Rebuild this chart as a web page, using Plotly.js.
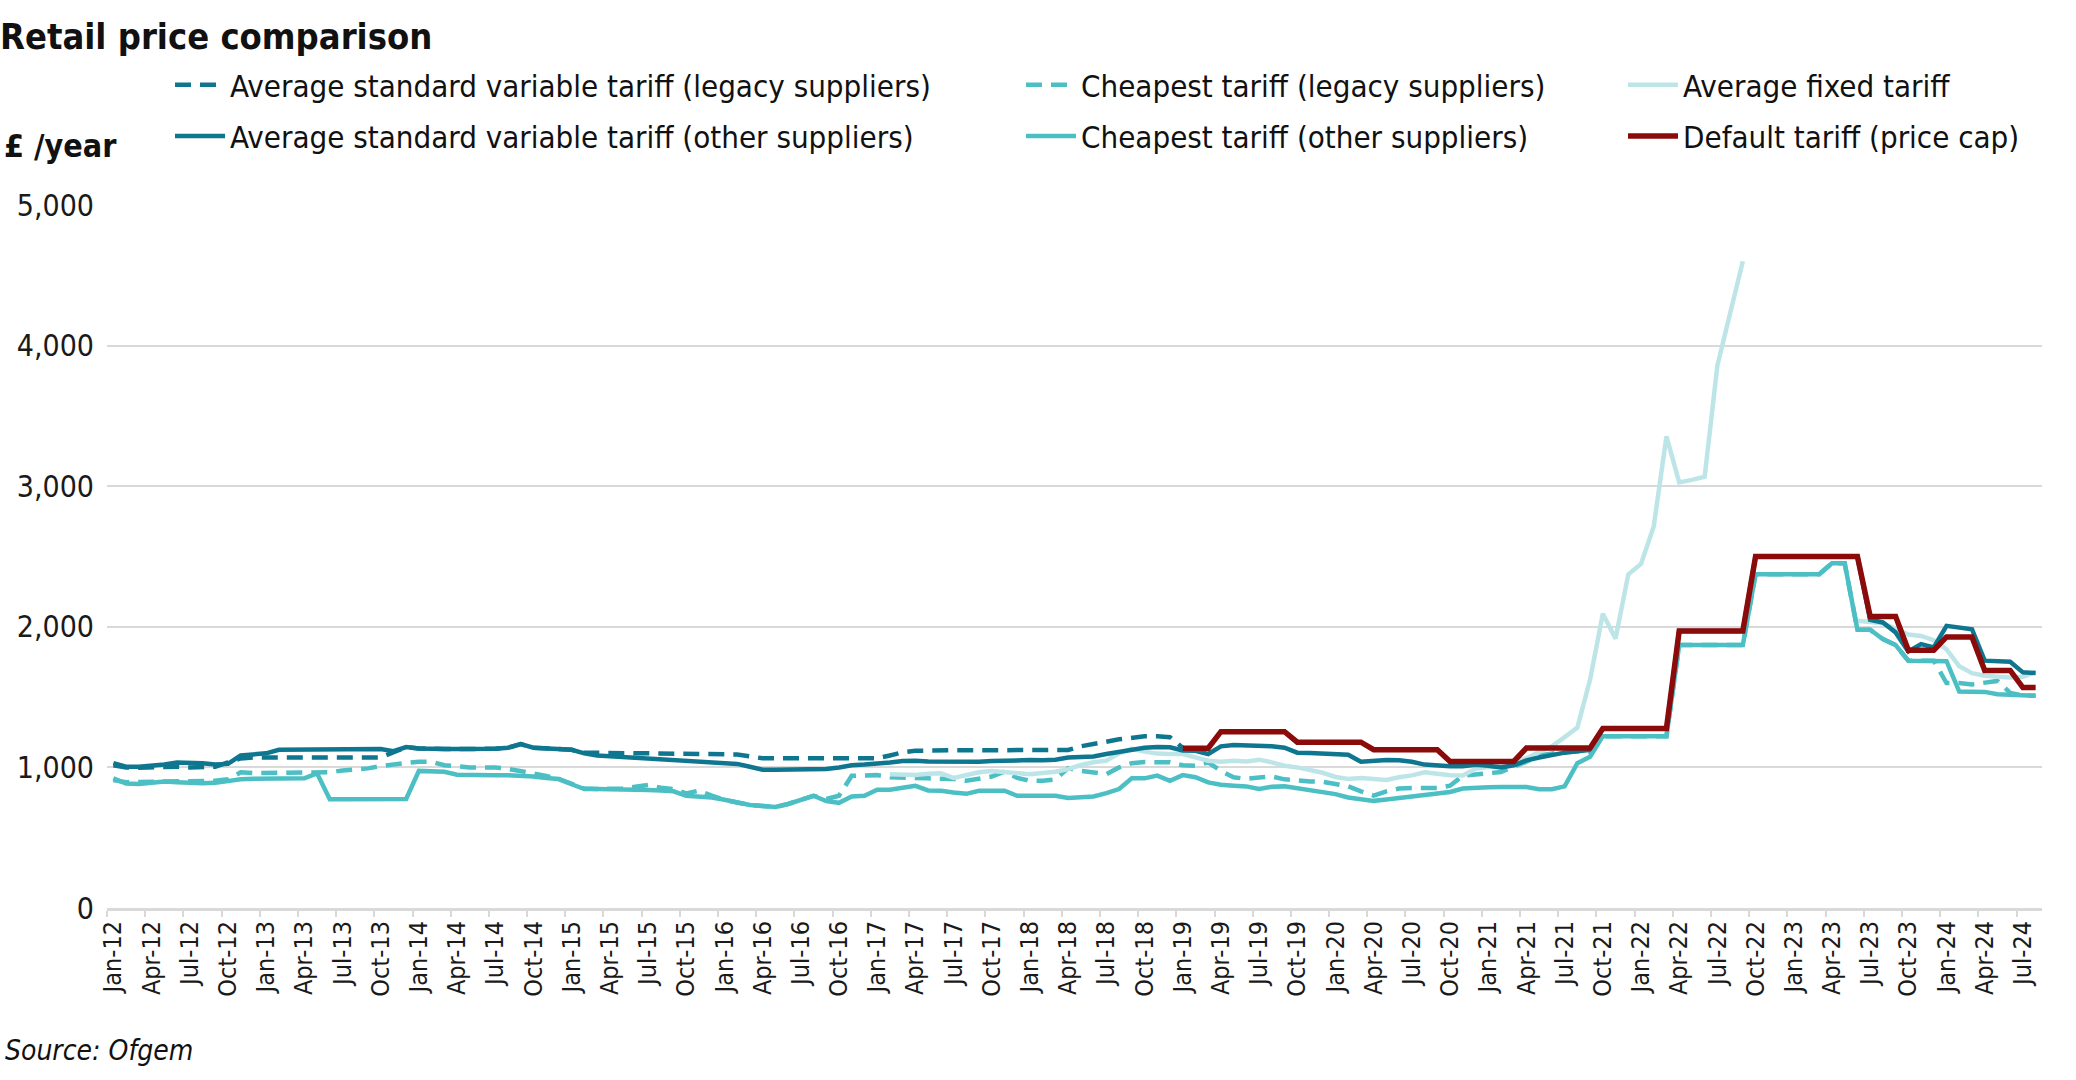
<!DOCTYPE html>
<html>
<head>
<meta charset="utf-8">
<script src="https://cdn.plot.ly/plotly-3.0.1.min.js"></script>
<style>
  html, body { margin: 0; padding: 0; background: #ffffff; }
  #chart { width: 2076px; height: 1080px; }
</style>
</head>
<body>
<div id="chart"></div>
<script>
// Monthly categories, Jan-12 .. Aug-24
const monthNames = ['Jan','Feb','Mar','Apr','May','Jun','Jul','Aug','Sep','Oct','Nov','Dec'];
const yearLabels = ['12','13','14','15','16','17','18','19','20','21','22','23','24'];
const months = [];
yearLabels.forEach(function (yy) {
  monthNames.forEach(function (mm) { months.push(mm + '-' + yy); });
});
months.length = 152; // data runs to Aug-24

// Average standard variable tariff (legacy suppliers), £/year, Jan-12 .. Jan-19
const avgSvtLegacy = [
  1015, 1000, 998, 1000, 1005, 1005, 1000, 1000, 1005, 1035, 1064, 1070,
  1071, 1071, 1071, 1071, 1071, 1071, 1071, 1071, 1071, 1071, 1110, 1145,
  1135, 1130, 1130, 1130, 1130, 1130, 1133, 1140, 1165, 1140, 1135, 1130,
  1125, 1105, 1102, 1100, 1100, 1100, 1100, 1100, 1100, 1100, 1100, 1100,
  1098, 1092, 1078, 1065, 1065, 1065, 1065, 1065, 1065, 1065, 1065, 1065,
  1065, 1085, 1107, 1118, 1122, 1122, 1122, 1122, 1122, 1122, 1122, 1122,
  1122, 1122, 1122, 1124, 1150, 1170, 1183, 1200, 1212, 1221, 1222, 1215,
  1140
];

// Cheapest tariff (legacy suppliers), Jan-12 .. Aug-24
const cheapestLegacy = [
  910, 895, 897, 898, 900, 902, 900, 905, 905, 915, 965, 960,
  960, 960, 960, 960, 960, 965, 978, 985, 993, 1010, 1017, 1031,
  1040, 1040, 1015, 1005, 1000, 1000, 1000, 990, 975, 955, 940, 917,
  880, 850, 846, 846, 850, 862, 875, 855, 845, 815, 835, 800,
  770, 750, 733, 725, 718, 740, 765, 798, 775, 798, 940, 945,
  945, 930, 925, 922, 922, 920, 917, 905, 917, 935, 970, 925,
  905, 905, 915, 995, 975, 960, 952, 1000, 1030, 1038, 1040, 1036,
  1015, 1012, 1036, 975, 930, 918, 928, 935, 915, 905, 900, 898,
  883, 865, 830, 800, 830, 850, 853, 853, 853, 870, 940, 950,
  955, 967, 1005, 1040, 1085, 1100, 1110, 1113, 1110, 1222, 1222, 1222,
  1222, 1222, 1222, 1870, 1870, 1870, 1870, 1870, 1870, 2374, 2374, 2374,
  2374, 2374, 2374, 2452, 2452, 1979, 1979, 1913, 1870, 1759, 1759, 1759,
  1600, 1600, 1590, 1600, 1615, 1530, 1512, 1510
];

// Average fixed tariff, Feb-17 .. Aug-24 (no figures Oct-22 .. May-23)
const avgFixed = [
  952, 950, 946, 955, 958, 925, 945, 965, 975, 968, 958,
  952, 960, 969, 988, 1017, 1036, 1048, 1100, 1133, 1112, 1098, 1095,
  1095, 1071, 1048, 1040, 1048, 1042, 1055, 1036, 1012, 1000, 983, 962,
  932, 918, 925, 915, 910, 930, 943, 965, 955, 945, 943, 990,
  1002, 1010, 1035, 1065, 1109, 1150, 1215, 1283, 1624, 2093, 1916, 2373,
  2447, 2714, 3354, 3027, 3045, 3068, 3858, 4230, 4600, null, null, null,
  null, null, null, null, null, 2043, 2035, 2026, 1985, 1945, 1935, 1905,
  1840, 1720, 1670, 1652, 1645, 1640, 1645, 1678
];

// Average standard variable tariff (other suppliers), Jan-12 .. Aug-24
const avgSvtOther = [
  1030, 1005, 1005, 1010, 1020, 1035, 1035, 1030, 1020, 1025, 1085, 1095,
  1100, 1125, 1125, 1125, 1125, 1125, 1125, 1125, 1125, 1130, 1115, 1145,
  1135, 1130, 1130, 1130, 1130, 1130, 1133, 1140, 1165, 1140, 1135, 1130,
  1125, 1100, 1085, 1080, 1075, 1070, 1065, 1062, 1058, 1052, 1045, 1040,
  1035, 1025, 1005, 983, 983, 985, 986, 987, 988, 1000, 1015, 1020,
  1025, 1035, 1045, 1048, 1042, 1040, 1040, 1040, 1040, 1045, 1050, 1052,
  1052, 1050, 1055, 1070, 1072, 1078, 1095, 1110, 1128, 1140, 1145, 1143,
  1120, 1118, 1095, 1150, 1160, 1158, 1155, 1150, 1140, 1105, 1102, 1100,
  1098, 1090, 1040, 1050, 1052, 1050, 1040, 1020, 1010, 1008, 1008, 1018,
  1012, 1000, 1015, 1050, 1070, 1090, 1105, 1115, 1125, 1277, 1277, 1277,
  1277, 1277, 1277, 1971, 1971, 1971, 1971, 1971, 1971, 2500, 2500, 2500,
  2500, 2500, 2500, 2500, 2500, 2500, 2050, 2031, 1960, 1825, 1877, 1853,
  2007, 1995, 1983, 1759, 1755, 1752, 1676, 1671
];

// Cheapest tariff (other suppliers), Jan-12 .. Aug-24
const cheapestOther = [
  922, 885, 882, 888, 900, 895, 888, 888, 890, 905, 915, 920,
  922, 922, 922, 922, 958, 774, 774, 774, 774, 774, 774, 775,
  975, 972, 969, 948, 945, 945, 945, 945, 942, 935, 925, 917,
  880, 846, 846, 846, 845, 842, 840, 836, 830, 798, 793, 786,
  770, 750, 733, 725, 718, 740, 765, 798, 760, 748, 793, 798,
  841, 841, 855, 869, 836, 834, 822, 812, 834, 834, 834, 798,
  798, 798, 798, 783, 788, 793, 817, 846, 922, 922, 942, 905,
  945, 930, 893, 876, 870, 865, 846, 862, 865, 850, 840, 825,
  810, 786, 770, 762, 772, 782, 790, 797, 812, 825, 850, 858,
  858, 860, 860, 860, 845, 845, 865, 1030, 1075, 1222, 1222, 1222,
  1222, 1222, 1222, 1870, 1870, 1870, 1870, 1870, 1870, 2374, 2374, 2374,
  2374, 2374, 2374, 2452, 2452, 1979, 1979, 1913, 1870, 1759, 1759, 1759,
  1755, 1539, 1539, 1537, 1520, 1515, 1512, 1510
];

// Default tariff (price cap), Jan-19 .. Aug-24
const defaultCap = [
  1137, 1137, 1137, 1254, 1254, 1254, 1254, 1254, 1254, 1179, 1179, 1179,
  1179, 1179, 1179, 1126, 1126, 1126, 1126, 1126, 1126, 1042, 1042, 1042,
  1042, 1042, 1042, 1138, 1138, 1138, 1138, 1138, 1138, 1277, 1277, 1277,
  1277, 1277, 1277, 1971, 1971, 1971, 1971, 1971, 1971, 2500, 2500, 2500,
  2500, 2500, 2500, 2500, 2500, 2500, 2074, 2074, 2074, 1834, 1834, 1834,
  1928, 1928, 1928, 1690, 1690, 1690, 1568, 1568
];

const seriesNames = [
  'Average standard variable tariff (legacy suppliers)',
  'Cheapest tariff (legacy suppliers)',
  'Average fixed tariff',
  'Average standard variable tariff (other suppliers)',
  'Cheapest tariff (other suppliers)',
  'Default tariff (price cap)'
];

const DARK = '#0f7690';
const TEAL = '#4cbfc4';
const LIGHT = '#bde5e8';
const RED = '#8b0a0a';
const NARROW = "'Liberation Sans Narrow', 'DejaVu Sans Condensed', 'Arial Narrow', sans-serif";

function line(name, x, y, color, width, dash, legendId, group) {
  return {
    type: 'scatter', mode: 'lines', name: name, x: x, y: y,
    line: { color: color, width: width, dash: dash || 'solid' },
    connectgaps: false, legend: legendId, legendgroup: group,
    hoverinfo: 'x+y+name'
  };
}

const dashPattern = '16px,9px';
const traces = [
  line(seriesNames[0], months.slice(0, avgSvtLegacy.length), avgSvtLegacy, DARK, 4.5, dashPattern, 'legend', 'a'),
  line(seriesNames[1], months.slice(0, cheapestLegacy.length), cheapestLegacy, TEAL, 4.5, dashPattern, 'legend2', 'c'),
  line(seriesNames[2], months.slice(61, 61 + avgFixed.length), avgFixed, LIGHT, 4.5, null, 'legend3', 'e'),
  line(seriesNames[3], months.slice(0, avgSvtOther.length), avgSvtOther, DARK, 4.5, null, 'legend', 'b'),
  line(seriesNames[4], months.slice(0, cheapestOther.length), cheapestOther, TEAL, 4.5, null, 'legend2', 'd'),
  line(seriesNames[5], months.slice(84, 84 + defaultCap.length), defaultCap, RED, 5.5, null, 'legend3', 'f')
];

function legendAt(xpx) {
  return {
    xref: 'container', yref: 'container',
    x: xpx / 2076, y: 1 - 58 / 1080,
    xanchor: 'left', yanchor: 'top',
    orientation: 'v', traceorder: 'grouped', tracegroupgap: 8,
    itemwidth: 50, bgcolor: 'rgba(0,0,0,0)', borderwidth: 0,
    font: { family: NARROW, size: 31, color: '#111111' }
  };
}

const layout = {
  width: 2076, height: 1080,
  paper_bgcolor: '#ffffff', plot_bgcolor: '#ffffff',
  margin: { l: 107, r: 34, t: 205, b: 172, pad: 0, autoexpand: false },
  showlegend: true,
  title: {
    text: '<b>Retail price comparison</b>',
    x: 0, xref: 'container', xanchor: 'left',
    y: 1 - 36 / 1080, yref: 'container', yanchor: 'middle',
    font: { family: NARROW, size: 36, color: '#111111' }
  },
  legend: legendAt(170),
  legend2: legendAt(1021),
  legend3: legendAt(1623),
  xaxis: {
    type: 'category',
    categoryorder: 'array', categoryarray: months,
    range: [-0.5, 151.5],
    tickmode: 'linear', tick0: 0, dtick: 3,
    tickson: 'boundaries',
    ticks: 'outside', ticklen: 6, tickwidth: 2, tickcolor: '#d9d9d9',
    tickangle: -90,
    tickfont: { family: NARROW, size: 25, color: '#1a1a1a' },
    showgrid: false, zeroline: false,
    showline: true, linecolor: '#d9d9d9', linewidth: 3
  },
  yaxis: {
    range: [0, 5000],
    tickmode: 'array', tickvals: [0, 1000, 2000, 3000, 4000, 5000],
    tickformat: ',d',
    tickfont: { family: NARROW, size: 30, color: '#1a1a1a' },
    showgrid: true, gridcolor: '#d9d9d9', gridwidth: 2,
    zeroline: false, showline: false, ticks: '',
    ticklabelstandoff: 12
  },
  annotations: [
    {
      text: '<b>£ /year</b>', xref: 'paper', yref: 'paper',
      x: 0, y: 1, xshift: -105, yshift: 59, xanchor: 'left', yanchor: 'middle',
      showarrow: false, font: { family: NARROW, size: 32, color: '#111111' }
    },
    {
      text: '<i>Source: Ofgem</i>', xref: 'paper', yref: 'paper',
      x: 0, y: 0, xshift: -104, yshift: -142, xanchor: 'left', yanchor: 'middle',
      showarrow: false, font: { family: NARROW, size: 28, color: '#111111' }
    }
  ]
};

Plotly.newPlot('chart', traces, layout, { staticPlot: true, displayModeBar: false });
</script>
</body>
</html>
